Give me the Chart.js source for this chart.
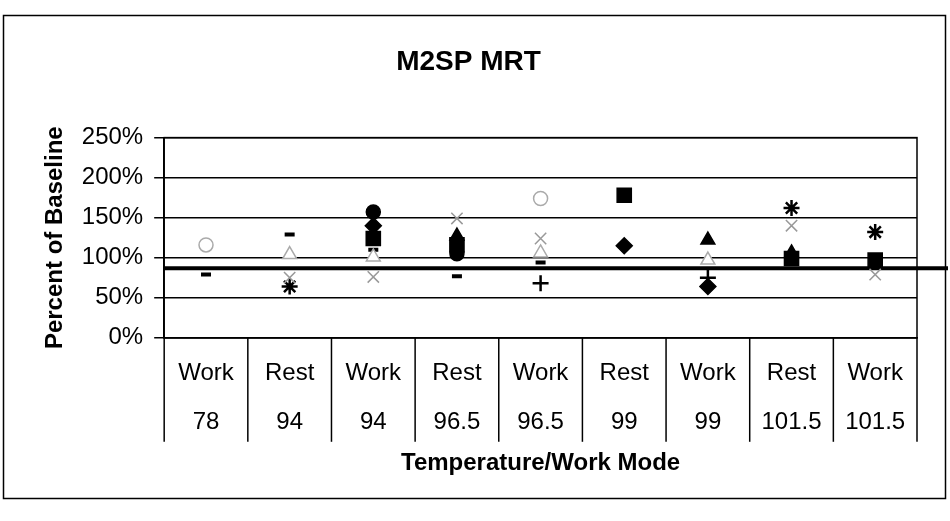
<!DOCTYPE html>
<html>
<head>
<meta charset="utf-8">
<script src="https://cdn.jsdelivr.net/npm/chart.js@4"></script>
<style>
  html, body { margin: 0; padding: 0; background: #fff; }
  #wrap { width: 950px; height: 521px; }
</style>
</head>
<body>
<div id="wrap"><canvas id="mrtChart" width="950" height="521"></canvas></div>
<script>
// categories: work mode + temperature
var modes = ["Work", "Rest", "Work", "Rest", "Work", "Rest", "Work", "Rest", "Work"];
var temps = ["78", "94", "94", "96.5", "96.5", "99", "99", "101.5", "101.5"];
var yTicks = [0, 50, 100, 150, 200, 250];
var baseline = 87;

// percent of baseline, one array per subject
var diamondVals  = [null, null, 140, null, null, 115, 64, null, null];
var squareVals   = [null, null, 124, 116, null, 178, null, 99, 97];
var triangleVals = [null, null, null, 127, null, null, 122, 106, null];
var hollowVals   = [null, 104, 101, null, 106, null, 97, null, null];
var crossVals    = [null, 75, 76, 149, 124, null, null, 140, 79];
var starVals     = [null, 64, null, null, null, null, null, 162, 132];
var circleVals   = [null, null, 157, 105, null, null, null, null, null];
var grayCircVals = [116, null, null, null, 174, null, null, null, null];
var plusVals     = [null, null, null, null, 68, null, 75, null, null];
var dashVals     = [79, 129, 110, 77, 94, null, null, null, null];

var labels = modes.map(function (m, i) { return [m, temps[i]]; });
var font = 'Liberation Sans';

function series(name, vals, style, color, fill, size, bw) {
  return {
    label: name,
    data: vals,
    showLine: false,
    pointStyle: style,
    pointRadius: size,
    pointHoverRadius: size,
    borderColor: color,
    backgroundColor: fill,
    pointBorderWidth: bw || 1.5
  };
}

var frame = {
  id: 'frame',
  beforeDraw: function (chart) {
    var c = chart.ctx;
    c.save();
    c.fillStyle = '#fff';
    c.fillRect(0, 0, chart.width, chart.height);
    c.strokeStyle = '#000';
    c.lineWidth = 1.5;
    c.strokeRect(3.5, 15.5, 942, 483);
    c.restore();
  },
  beforeDatasetsDraw: function (chart) {
    var a = chart.chartArea;
    var c = chart.ctx;
    var xs = chart.scales.x;
    var y = chart.scales.y.getPixelForValue(baseline);
    c.save();
    c.strokeStyle = '#000';
    c.lineWidth = 1.5;
    c.strokeRect(a.left, a.top, a.right - a.left, a.bottom - a.top);
    // category dividers under the axis
    var n = labels.length;
    for (var i = 0; i <= n; i++) {
      var x = i === 0 ? a.left : i === n ? a.right
        : (xs.getPixelForValue(i - 1) + xs.getPixelForValue(i)) / 2;
      c.beginPath();
      c.moveTo(x, a.bottom);
      c.lineTo(x, a.bottom + 104);
      c.stroke();
    }
    // baseline reference line
    c.lineWidth = 4;
    c.beginPath();
    c.moveTo(a.left, y);
    c.lineTo(chart.width - 2, y);
    c.stroke();
    c.restore();
  }
};

new Chart(document.getElementById('mrtChart'), {
  type: 'line',
  data: {
    labels: labels,
    datasets: [
      series("S1", diamondVals, 'rectRot', '#000', '#000', 8),
      series("S2", squareVals, 'rect', '#000', '#000', 10),
      series("S3", triangleVals, 'triangle', '#000', '#000', 8),
      series("S4", hollowVals, 'triangle', '#aaa', '#fff', 8),
      series("S5", crossVals, 'crossRot', '#999', '#999', 8),
      series("S6", starVals, 'star', '#000', '#000', 8, 2.5),
      series("S7", circleVals, 'circle', '#000', '#000', 7),
      series("S8", grayCircVals, 'circle', '#aaa', '#fff', 7),
      series("S9", plusVals, 'cross', '#000', '#000', 8, 2.5),
      series("S10", dashVals, 'line', '#000', '#000', 5, 4)
    ]
  },
  plugins: [frame],
  options: {
    responsive: false,
    animation: false,
    layout: { padding: { left: 20, right: 33, top: 45, bottom: 43 } },
    plugins: {
      legend: { display: false },
      tooltip: { enabled: false },
      title: {
        display: true,
        text: 'M2SP MRT',
        color: '#000',
        font: { family: font, size: 28, weight: 'bold' },
        padding: { top: 0, bottom: 59 }
      }
    },
    scales: {
      x: {
        offset: true,
        grid: { display: false, drawTicks: false },
        border: { color: '#000', width: 1.5 },
        ticks: {
          color: '#000',
          padding: 11,
          maxRotation: 0,
          font: { family: font, size: 24, lineHeight: 2.05 }
        },
        title: {
          display: true,
          text: 'Temperature/Work Mode',
          color: '#000',
          font: { family: font, size: 24, weight: 'bold' },
          padding: { top: -9, bottom: 0 }
        }
      },
      y: {
        min: 0,
        max: 250,
        afterBuildTicks: function (axis) {
          axis.ticks = yTicks.map(function (v) { return { value: v }; });
        },
        grid: { color: '#000', lineWidth: 1.5, tickLength: 10 },
        border: { color: '#000', width: 1.5 },
        ticks: {
          color: '#000',
          padding: 11,
          font: { family: font, size: 24 },
          callback: function (v) { return v + '%'; }
        },
        title: {
          display: true,
          text: 'Percent of Baseline',
          color: '#000',
          font: { family: font, size: 24, weight: 'bold' },
          padding: { top: 21, bottom: 1 }
        }
      }
    }
  }
});
</script>
</body>
</html>
